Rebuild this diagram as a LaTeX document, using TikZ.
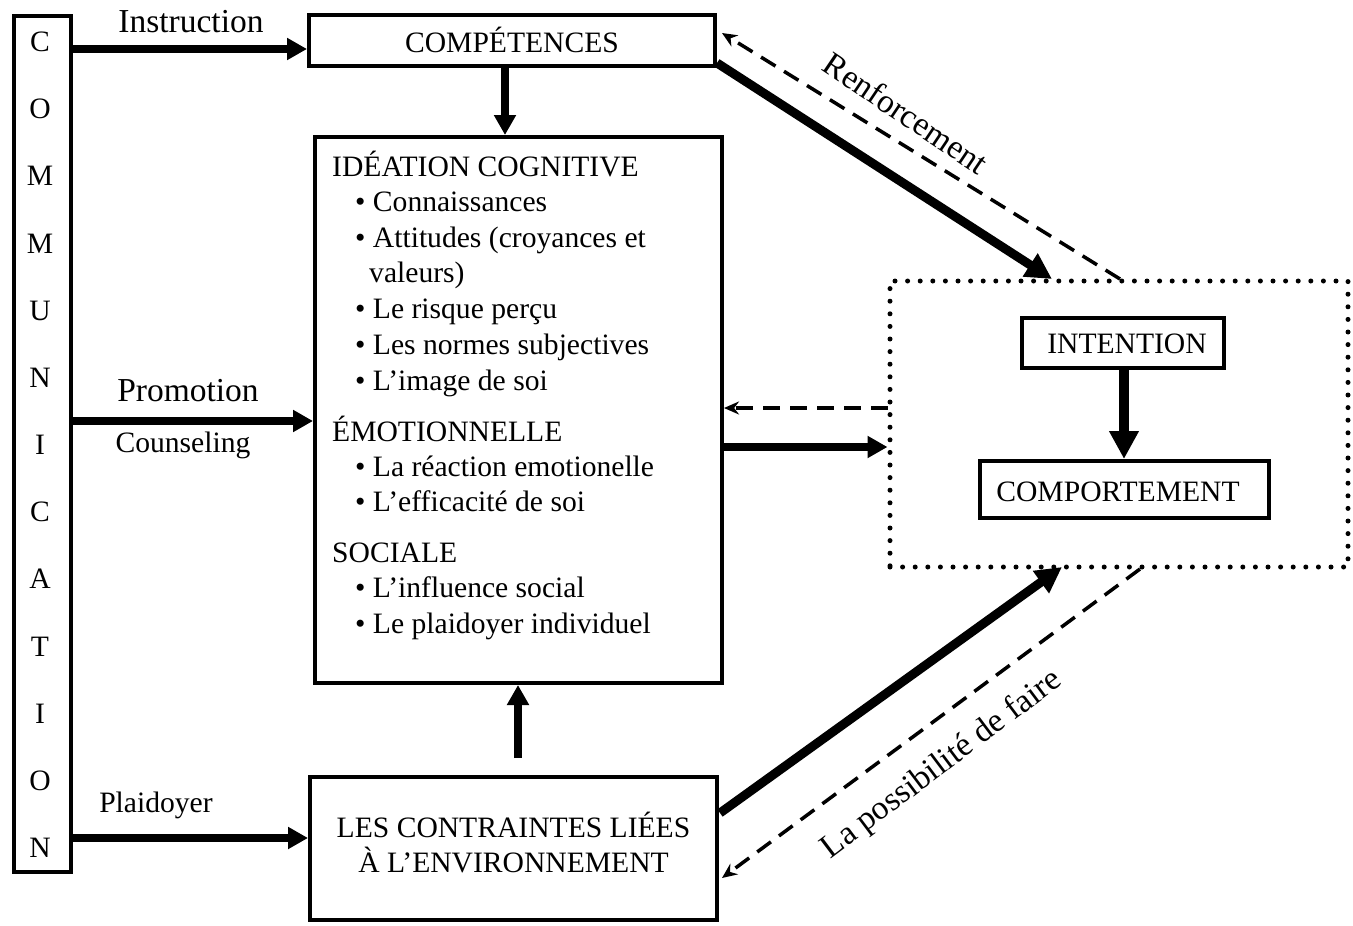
\documentclass[tikz,border=0pt]{standalone}
\usepackage{fontspec}
\setmainfont{Liberation Serif}
\usetikzlibrary{arrows.meta}
\begin{document}
\begin{tikzpicture}[x=1pt,y=-1pt,
  box/.style={draw,line width=4pt,inner sep=0pt,align=center,font=\fontsize{29.6}{35}\selectfont},
  txt/.style={inner sep=0pt,anchor=base west,font=\fontsize{29.6}{35}\selectfont},
  lbl/.style={inner sep=0pt,font=\fontsize{33.5}{40}\selectfont},
  slbl/.style={inner sep=0pt,font=\fontsize{29.6}{35}\selectfont},
  bigarrow/.style={line width=8pt,-{Triangle[length=20pt,width=21pt]}},
  diagarrow/.style={line width=9pt,-{Triangle[length=26pt,width=26pt]}},
  dasharrow/.style={line width=3.5pt,dash pattern=on 17pt off 10pt,-{Stealth[length=15pt,width=13pt]}},
  dotbox/.style={draw,line width=5pt,dash pattern=on 0pt off 12.6pt,line cap=round,inner sep=0pt}
]
\useasboundingbox (0,0) rectangle (1353,926);

% boxes
\node[box,minimum width=57pt,minimum height=856pt] (comm) at (42.5,444) {};
\foreach \L [count=\i from 0] in {C,O,M,M,U,N,I,C,A,T,I,O,N}
  \node[slbl] (c\i) at (40,{42+67.15*\i}) {\L};

\node[box,minimum width=406pt,minimum height=51pt] (comp) at (512,40.5) {};
\node[slbl] (comptxt) at (512,40) {COMPÉTENCES};
\node[box,minimum width=407pt,minimum height=546pt] (ideas) at (518.5,410) {};
\node[box,minimum width=407pt,minimum height=143pt] (env) at (513.5,848.5) {};
\node[slbl,align=center] (envtxt) at (513.5,843) {LES CONTRAINTES LIÉES\\À L’ENVIRONNEMENT};
\node[dotbox,minimum width=458pt,minimum height=286pt] (dot) at (1119,424) {};
\node[box,minimum width=202pt,minimum height=50pt] (int) at (1123,343) {};
\node[slbl] (inttxt) at (1127,344) {INTENTION};
\node[box,minimum width=289pt,minimum height=57pt] (beh) at (1124.5,489.5) {};
\node[slbl] (behtxt) at (1118,492) {COMPORTEMENT};

% text inside big box
\node[txt] (t1) at (332,176) {IDÉATION COGNITIVE};
\node[txt] (t2) at (355,211) {• Connaissances};
\node[txt] (t3) at (355,247) {• Attitudes (croyances et};
\node[txt] (t4) at (369,282) {valeurs)};
\node[txt] (t5) at (355,318) {• Le risque perçu};
\node[txt] (t6) at (355,354) {• Les normes subjectives};
\node[txt] (t7) at (355,390) {• L’image de soi};
\node[txt] (t8) at (332,441) {ÉMOTIONNELLE};
\node[txt] (t9) at (355,476) {• La réaction emotionelle};
\node[txt] (t10) at (355,511) {• L’efficacité de soi};
\node[txt] (t11) at (332,562) {SOCIALE};
\node[txt] (t12) at (355,597) {• L’influence social};
\node[txt] (t13) at (355,633) {• Le plaidoyer individuel};

% labels
\node[lbl] (linstr) at (191,22) {Instruction};
\node[lbl] (lprom) at (188,391) {Promotion};
\node[slbl] (lcoun) at (183,445) {Counseling};
\node[slbl] (lplai) at (156,805) {Plaidoyer};
\node[lbl,rotate=-34] (lrenf) at (906,113) {Renforcement};
\node[lbl,rotate=37] (lposs) at (942,765) {La possibilité de faire};

% coordinates
\coordinate (envtop) at (518,758);
\coordinate (r1) at (717,63);
\coordinate (r2) at (1052,279);
\coordinate (r3) at (1120,279);
\coordinate (r4) at (722,33);
\coordinate (p1) at (720,813);
\coordinate (p2) at (1062,567);
\coordinate (p3) at (1140,569);
\coordinate (p4) at (722,878);

% connectors
\draw[bigarrow] (comm.east |- 0,49) -- (comp.west |- 0,49);
\draw[bigarrow] (comm.east |- 0,421) -- (ideas.west |- 0,421);
\draw[bigarrow] (comm.east |- 0,838) -- (env.west |- 0,838);
\draw[bigarrow] (comp.south -| 505,0) -- (ideas.north -| 505,0);
\draw[bigarrow] (envtop) -- (ideas.south -| envtop);
\draw[bigarrow,line width=10pt,-{Triangle[length=28pt,width=28pt]}] (int.south -| 1124,0) -- (beh.north -| 1124,0);
\draw[bigarrow] (ideas.east |- 0,447) -- (dot.west |- 0,447);
\draw[dasharrow] (dot.west |- 0,408) -- (ideas.east |- 0,408);
\draw[diagarrow] (r1) -- (r2);
\draw[dasharrow] (r3) -- (r4);
\draw[diagarrow] (p1) -- (p2);
\draw[dasharrow] (p3) -- (p4);
\end{tikzpicture}
\end{document}
